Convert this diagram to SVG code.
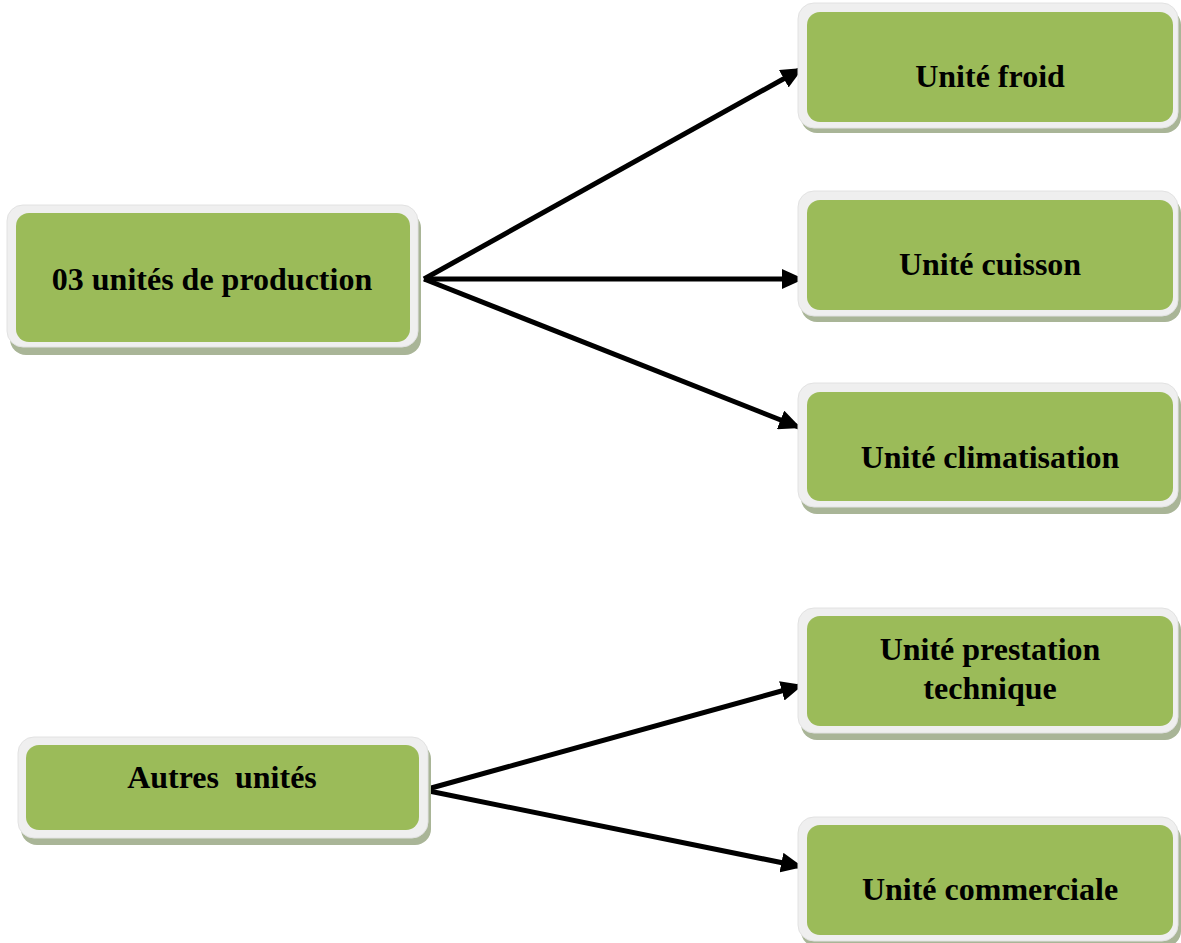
<svg xmlns="http://www.w3.org/2000/svg" width="1181" height="943" viewBox="0 0 1181 943">
  <style>
    .shadow { fill: #a9b597; }
    .frame { fill: #efefef; stroke: #e2e2e2; stroke-width: 1; }
    .face { fill: #9bbb59; }
    .label { font-family: 'Liberation Serif', 'DejaVu Serif', serif; font-weight: bold; font-size: 32px; fill: #000; text-anchor: middle; }
    .link { stroke: #000; stroke-width: 5; fill: none; marker-end: url(#head); }
  </style>
  <defs>
    <marker id="head" markerUnits="userSpaceOnUse" markerWidth="24" markerHeight="20" refX="22" refY="10" orient="auto">
      <path d="M0,0 L22,10 L0,20 Z" fill="#000"/>
    </marker>
  </defs>
  <rect width="1181" height="943" fill="#fff"/>

  <g id="connectors">
    <line class="link" x1="424" y1="279" x2="803" y2="68"/>
    <line class="link" x1="424" y1="279" x2="804" y2="279"/>
    <line class="link" x1="424" y1="279" x2="801" y2="428"/>
    <line class="link" x1="424" y1="790" x2="803" y2="685"/>
    <line class="link" x1="424" y1="790" x2="803" y2="867"/>
  </g>

  <g id="production">
    <rect class="shadow" x="10" y="212" width="411" height="143" rx="16"/>
    <rect class="frame" x="7" y="205" width="411" height="142" rx="16"/>
    <rect class="face" x="16" y="213" width="394" height="129" rx="13"/>
    <text class="label" x="212" y="290">03 unités de production</text>
  </g>

  <g id="froid">
    <rect class="shadow" x="801" y="9" width="380" height="124" rx="16"/>
    <rect class="frame" x="798" y="3" width="380" height="125" rx="16"/>
    <rect class="face" x="807" y="12" width="366" height="110" rx="13"/>
    <text class="label" x="990" y="87">Unité froid</text>
  </g>

  <g id="cuisson">
    <rect class="shadow" x="801" y="197" width="380" height="125" rx="16"/>
    <rect class="frame" x="798" y="191" width="380" height="125" rx="16"/>
    <rect class="face" x="807" y="200" width="366" height="110" rx="13"/>
    <text class="label" x="990" y="275">Unité cuisson</text>
  </g>

  <g id="climatisation">
    <rect class="shadow" x="801" y="389" width="380" height="125" rx="16"/>
    <rect class="frame" x="798" y="383" width="380" height="124" rx="16"/>
    <rect class="face" x="807" y="392" width="366" height="109" rx="13"/>
    <text class="label" x="990" y="468">Unité climatisation</text>
  </g>

  <g id="autres">
    <rect class="shadow" x="21" y="743" width="410" height="102" rx="16"/>
    <rect class="frame" x="18" y="737" width="410" height="101" rx="16"/>
    <rect class="face" x="26" y="745" width="393" height="85" rx="13"/>
    <text class="label" x="222" y="788" xml:space="preserve">Autres  unités</text>
  </g>

  <g id="prestation">
    <rect class="shadow" x="801" y="614" width="380" height="126" rx="16"/>
    <rect class="frame" x="798" y="608" width="380" height="125" rx="16"/>
    <rect class="face" x="807" y="616" width="366" height="110" rx="13"/>
    <text class="label" x="990" y="660">Unité prestation</text>
    <text class="label" x="990" y="699">technique</text>
  </g>

  <g id="commerciale">
    <rect class="shadow" x="801" y="823" width="380" height="124" rx="16"/>
    <rect class="frame" x="798" y="817" width="380" height="124" rx="16"/>
    <rect class="face" x="807" y="825" width="366" height="110" rx="13"/>
    <text class="label" x="990" y="900">Unité commerciale</text>
  </g>
</svg>
